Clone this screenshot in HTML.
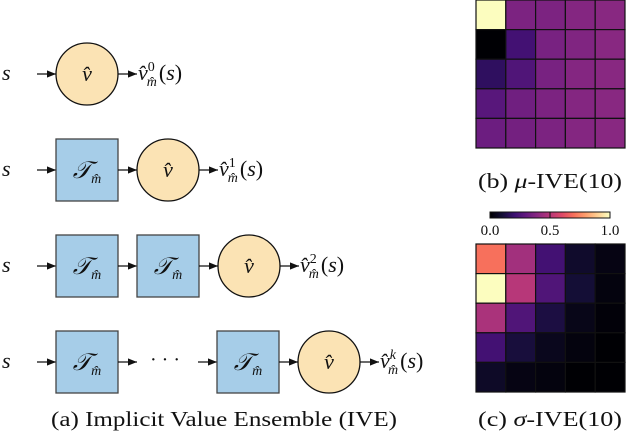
<!DOCTYPE html>
<html><head><meta charset="utf-8"><style>
html,body{margin:0;padding:0;background:#fff;width:626px;height:436px;overflow:hidden}
svg text{font-family:"Liberation Serif","DejaVu Serif",serif;fill:#111}
.m{font-style:italic}
</style></head><body>
<svg id="fig" width="626" height="436" viewBox="0 0 626 436" font-family="Liberation Serif, DejaVu Serif, serif">
<defs><marker id="ah" viewBox="0 0 10 10" refX="10" refY="5" markerWidth="7" markerHeight="7" orient="auto"><path d="M0,1 L10,5 L0,9 z" fill="#111"/></marker></defs>
<g id="diagram"></g>
<g id="hm1"></g>
<g id="hm2"></g>
<g id="cbar"></g>
<text x="224" y="426" font-size="21" text-anchor="middle" textLength="346" lengthAdjust="spacingAndGlyphs">(a) Implicit Value Ensemble (IVE)</text>
<text x="550" y="188" font-size="21" text-anchor="middle" textLength="144" lengthAdjust="spacingAndGlyphs">(b) <tspan class="m">μ</tspan>-IVE(10)</text>
<text x="550" y="426" font-size="21" text-anchor="middle" textLength="144" lengthAdjust="spacingAndGlyphs">(c) <tspan class="m">σ</tspan>-IVE(10)</text>
</svg>
<script>
const muValues=[[1.0,0.36,0.36,0.38,0.39],[0.0,0.22,0.35,0.37,0.39],[0.17,0.25,0.35,0.38,0.39],[0.27,0.33,0.36,0.38,0.39],[0.32,0.34,0.36,0.38,0.39]];
const sigmaValues=[[0.7,0.45,0.22,0.08,0.03],[1.0,0.5,0.25,0.1,0.02],[0.47,0.25,0.12,0.04,0.01],[0.22,0.11,0.05,0.02,0.0],[0.07,0.03,0.02,0.0,0.0]];
const cbarTicks=[0.0,0.5,1.0];
const NS="http://www.w3.org/2000/svg";
const magma=["#000004","#140e36","#3b0f70","#641a80","#8c2981","#b73779","#de4968","#f7705c","#fe9f6d","#fecf92","#fcfdbf"];
function hex(h){return [1,3,5].map(i=>parseInt(h.substr(i,2),16));}
function cmap(v){v=Math.max(0,Math.min(1,v));const t=v*10,i=Math.min(9,Math.floor(t)),f=t-i;const a=hex(magma[i]),b=hex(magma[i+1]);return "rgb("+a.map((c,k)=>Math.round(c+(b[k]-c)*f)).join(",")+")";}
function el(tag,attrs,parent){const e=document.createElementNS(NS,tag);for(const k in attrs)e.setAttribute(k,attrs[k]);parent.appendChild(e);return e;}
function heat(g,vals,x0,y0,w,h){const n=vals.length,cw=w/n,ch=h/n;
 vals.forEach((row,r)=>row.forEach((v,c)=>{const rc=el('rect',{x:x0+c*cw,y:y0+r*ch,width:cw,height:ch,fill:cmap(v),stroke:'#111','stroke-width':1.2},g);
 
 }));}
heat(document.getElementById('hm1'),muValues,476,0,149,148);
heat(document.getElementById('hm2'),sigmaValues,476,244,149,148);
const cb=document.getElementById('cbar');
const cx0=490,cx1=610;
for(let i=0;i<120;i++){el('rect',{x:cx0+i,y:212,width:1.2,height:6,fill:cmap(i/119)},cb);}
el('rect',{x:cx0,y:212,width:cx1-cx0,height:6,fill:'none',stroke:'#111','stroke-width':1},cb);
cbarTicks.forEach(t=>{const x=cx0+t*(cx1-cx0);el('line',{x1:x,x2:x,y1:212,y2:218,stroke:'#111','stroke-width':1},cb);
 const tx=el('text',{x:x,y:235,'font-size':15,'text-anchor':'middle'},cb);tx.textContent=t.toFixed(1);
 
 });
const d=document.getElementById('diagram');
function arrow(x1,x2,y){el('line',{x1:x1,x2:x2,y1:y,y2:y,stroke:'#111','stroke-width':1.3,'marker-end':'url(#ah)'},d);}
function box(x,y){const b=el('rect',{x:x,y:y-31,width:62,height:62,fill:'#a6cde8',stroke:'#444','stroke-width':1.3},d);
 
 
 const t=el('text',{x:x+31,y:y+8,'font-size':24,'text-anchor':'middle',class:'m'},d);t.innerHTML='𝒯<tspan font-size="14" dy="5">m̂</tspan>';}
function circ(x,y){const c=el('circle',{cx:x+31,cy:y,r:31,fill:'#fbe3b4',stroke:'#111','stroke-width':1.3},d);
 
 
 const t=el('text',{x:x+31,y:y+7,'font-size':22,'text-anchor':'middle',class:'m'},d);t.textContent='v̂';}
function s(y){const t=el('text',{x:2,y:y+6,'font-size':22,class:'m'},d);t.textContent='s';}
function out(x,y,sup){const t=el('text',{x:x,y:y+6,'font-size':22},d);t.innerHTML='<tspan class="m">v̂</tspan><tspan font-size="14" dy="-9">'+sup+'</tspan><tspan font-size="14" dx="-8" dy="15" class="m">m̂</tspan><tspan dx="2" dy="-6">(</tspan><tspan class="m">s</tspan>)';}
const rows=[74,170,266,362];
s(rows[0]);arrow(37,56,rows[0]);circ(56,rows[0]);arrow(118,137,rows[0]);out(138,rows[0],'0');
s(rows[1]);arrow(37,56,rows[1]);box(56,rows[1]);arrow(118,137,rows[1]);circ(137,rows[1]);arrow(199,218,rows[1]);out(219,rows[1],'1');
s(rows[2]);arrow(37,56,rows[2]);box(56,rows[2]);arrow(118,137,rows[2]);box(137,rows[2]);arrow(199,218,rows[2]);circ(218,rows[2]);arrow(280,299,rows[2]);out(300,rows[2],'2');
s(rows[3]);arrow(37,56,rows[3]);box(56,rows[3]);arrow(118,137,rows[3]);
const dots=el('text',{x:165,y:rows[3]+4,'font-size':20,'text-anchor':'middle'},d);dots.textContent='· · ·';
arrow(198,217,rows[3]);box(217,rows[3]);arrow(279,298,rows[3]);circ(298,rows[3]);arrow(360,379,rows[3]);out(380,rows[3],'<tspan class="m">k</tspan>');
</script>
</body></html>
